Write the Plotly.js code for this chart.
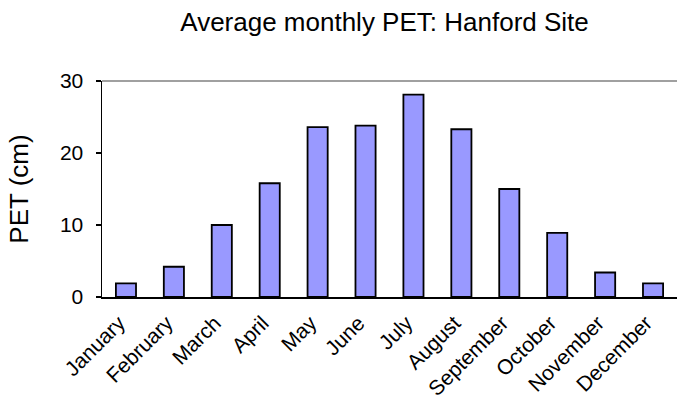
<!DOCTYPE html>
<html>
<head>
<meta charset="utf-8">
<script src="https://cdn.plot.ly/plotly-3.0.1.min.js"></script>
<style>html,body{margin:0;padding:0;background:#fff;}#chart{width:677px;height:400px;}</style>
</head>
<body>
<div id="chart"></div>
<script>
var months = ["January","February","March","April","May","June","July","August","September","October","November","December"];
var petCm = [1.9, 4.2, 10.0, 15.8, 23.6, 23.8, 28.1, 23.3, 15.0, 8.9, 3.4, 1.9];
var yTicks = [0, 10, 20, 30];

var trace = {
  type: "bar",
  x: months,
  y: petCm,
  marker: {color: "#9999ff", line: {color: "#000000", width: 1.8}},
  hoverinfo: "x+y"
};

var layout = {
  width: 677,
  height: 400,
  margin: {l: 102, r: 0, t: 81, b: 103},
  paper_bgcolor: "#ffffff",
  plot_bgcolor: "#ffffff",
  font: {family: "Liberation Sans, Arial, sans-serif", color: "#000000", size: 21},
  showlegend: false,
  bargap: 0.58,
  title: {
    text: "Average monthly PET: Hanford Site",
    font: {size: 26, family: "Liberation Sans, Arial, sans-serif", color: "#000"},
    x: 0.568, xanchor: "center",
    y: 0.945, yanchor: "middle"
  },
  xaxis: {
    type: "category",
    tickangle: -45,
    showgrid: false,
    showline: true,
    linecolor: "#000000",
    linewidth: 1.5,
    ticks: "",
    tickfont: {size: 21},
    ticklabelstandoff: 4,
    ticklabelshift: -7,
    zeroline: false
  },
  yaxis: {
    range: [0, 30],
    tickvals: yTicks,
    ticktext: yTicks.map(String),
    showgrid: false,
    zeroline: false,
    showline: true,
    linecolor: "#000000",
    linewidth: 1.5,
    ticks: "outside",
    ticklen: 5,
    tickcolor: "#000000",
    tickwidth: 1.5,
    tickfont: {size: 21},
    ticklabelstandoff: 8,
    title: {text: "PET (cm)", font: {size: 26}, standoff: 24}
  },
  shapes: [{
    type: "line", xref: "paper", yref: "paper",
    x0: 0, x1: 1, y0: 1, y1: 1,
    line: {color: "#808080", width: 1.5}
  }]
};

Plotly.newPlot("chart", [trace], layout, {displayModeBar: false, staticPlot: true});
</script>
</body>
</html>
